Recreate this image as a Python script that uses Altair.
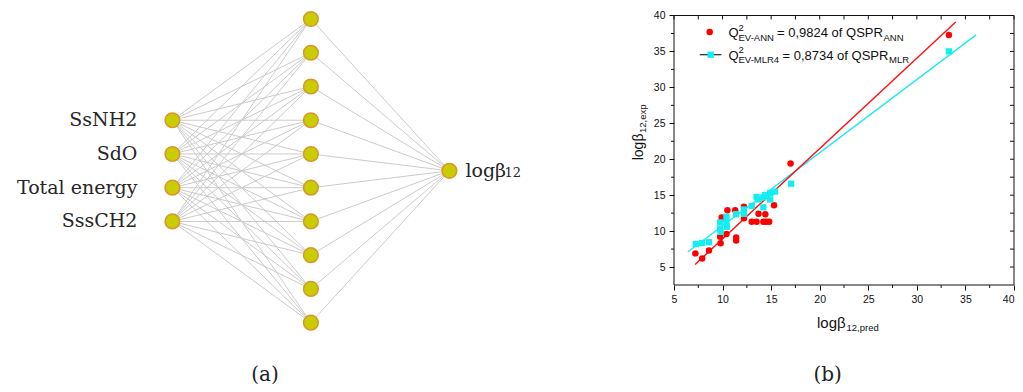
import altair as alt
import pandas as pd

# ---------------- Panel (a): network diagram data ----------------
input_labels = ["SsNH2", "SdO", "Total energy", "SssCH2"]
input_slots = [3, 4, 5, 6]
hidden_slots = [0, 1, 2, 3, 4, 5, 6, 7, 8, 9]
output_slots = [4.5]
output_text = "logβ"
output_sub = "12"

# ---------------- Panel (b): scatter data ----------------
ann_pred = [7.2, 7.9, 8.6, 9.8, 9.75, 10.4, 9.9, 10.5, 10.0, 11.4, 11.4, 11.3, 12.2, 12.2,
            13.0, 13.5, 13.7, 14.4, 14.2, 14.5, 14.8, 15.3, 17.0, 33.3]
ann_exp = [6.9, 6.2, 7.3, 8.3, 9.2, 9.6, 11.9, 12.9, 11.8, 9.1, 8.7, 12.9, 13.4, 11.8,
           11.3, 11.3, 12.4, 12.35, 11.3, 11.3, 11.3, 13.6, 19.4, 37.3]
mlr_pred = [7.25, 7.9, 8.6, 9.75, 9.75, 9.8, 10.4, 10.4, 10.45, 11.4, 12.2, 12.2, 13.0,
            13.5, 14.2, 14.2, 14.9, 14.4, 14.9, 15.4, 13.7, 17.05, 33.3]
mlr_exp = [8.2, 8.35, 8.45, 11.2, 10.3, 9.9, 12.0, 11.2, 10.6, 12.35, 13.0, 12.4, 13.5,
           14.75, 14.7, 13.3, 14.4, 15.0, 15.3, 15.5, 14.4, 16.6, 35.0]
ann_fit_x = [7.17, 34.0]
ann_fit_y = [5.36, 39.1]
mlr_fit_x = [6.42, 36.1]
mlr_fit_y = [7.1, 37.3]
major_ticks = [5, 10, 15, 20, 25, 30, 35, 40]
minor_ticks = [7.5, 12.5, 17.5, 22.5, 27.5, 32.5, 37.5]
all_ticks = [5, 7.5, 10, 12.5, 15, 17.5, 20, 22.5, 25, 27.5, 30, 32.5, 35, 37.5, 40]
x_limits = [5, 40]
y_limits = [2.5, 40]
legend_ann = ["Q", "2", "EV-ANN", "= 0,9824 of QSPR", "ANN"]
legend_mlr = ["Q", "2", "EV-MLR4", "= 0,8734 of QSPR", "MLR"]
x_title = ["logβ", "12,pred"]
y_title = ["logβ", "12,exp"]

SERIF = "DejaVu Serif"
SANS = "Liberation Sans"
dummy = pd.DataFrame({"d": [0]})


def txt(s, x, y, size, font=SANS, align="left", baseline="alphabetic", angle=0, color="#111111"):
    kw = dict(text=s, font=font, fontSize=size, align=align, baseline=baseline, color=color)
    if angle:
        kw["angle"] = angle
    return alt.Chart(dummy).mark_text(**kw).encode(x=alt.value(x), y=alt.value(y))


# ---------------- Left panel ----------------
LW, LH = 620, 376
lx = alt.Scale(domain=[-1.187, 3.2895], nice=False, zero=False)
ly = alt.Scale(domain=[-0.2667, 10.877], reverse=True, nice=False, zero=False)

nodes = pd.DataFrame(
    [{"layer": 0, "slot": s} for s in input_slots]
    + [{"layer": 1, "slot": s} for s in hidden_slots]
    + [{"layer": 2, "slot": s} for s in output_slots]
)
edges = pd.DataFrame(
    [{"x": 0, "x2": 1, "y": a, "y2": b} for a in input_slots for b in hidden_slots]
    + [{"x": 1, "x2": 2, "y": b, "y2": c} for b in hidden_slots for c in output_slots]
)
inputs = pd.DataFrame({"layer": [0] * len(input_labels), "slot": input_slots, "label": input_labels})
outputs = pd.DataFrame({"layer": [2], "slot": output_slots, "label": [output_text], "sub": [output_sub]})

X = lambda f: alt.X(f, type="quantitative", scale=lx, axis=None)
Y = lambda f: alt.Y(f, type="quantitative", scale=ly, axis=None)

edge_layer = alt.Chart(edges).mark_rule(color="#cbcbcb", strokeWidth=1).encode(
    x=X("x"), x2="x2", y=Y("y"), y2="y2")
node_layer = alt.Chart(nodes).mark_circle(
    size=215, fill="#c9cc00", stroke="#d8962c", strokeWidth=1.5, opacity=1, fillOpacity=1
).encode(x=X("layer"), y=Y("slot"))
in_text = alt.Chart(inputs).mark_text(
    font=SERIF, fontSize=19, align="right", baseline="middle", dx=-35, color="#262626"
).encode(x=X("layer"), y=Y("slot"), text="label:N")
out_text = alt.Chart(outputs).mark_text(
    font=SERIF, fontSize=19, align="left", baseline="alphabetic", dx=16, dy=6, color="#262626"
).encode(x=X("layer"), y=Y("slot"), text="label:N")
out_sub = alt.Chart(outputs).mark_text(
    font=SERIF, fontSize=13, align="left", baseline="alphabetic", dx=55, dy=6, color="#262626"
).encode(x=X("layer"), y=Y("slot"), text="sub:N")
cap_a = txt("(a)", 257, 365, 20, font=SERIF, align="center", baseline="middle", color="#222222")

left = alt.layer(edge_layer, node_layer, in_text, out_text, out_sub, cap_a).properties(width=LW, height=LH)

# ---------------- Right panel ----------------
RW, RH = 340, 275
TOP_PX = 5.5
Y_TOP = y_limits[1] + TOP_PX * (y_limits[1] - y_limits[0]) / (RH - TOP_PX)
xs = alt.Scale(domain=x_limits, nice=False, zero=False)
ys = alt.Scale(domain=[y_limits[0], Y_TOP], nice=False, zero=False)

x_axis = alt.Axis(values=major_ticks, title=None, domain=False, grid=False, tickSize=5,
                  tickColor="#111111", labelFont=SANS, labelFontSize=10.5, labelColor="#111111",
                  labelPadding=4, format="d",
                  labelAlign={"expr": "datum.value == 40 ? 'right' : 'center'"})
y_axis = alt.Axis(values=major_ticks, title=None, domain=False, grid=False, tickSize=5,
                  tickColor="#111111", labelFont=SANS, labelFontSize=10.5, labelColor="#111111",
                  labelPadding=4, format="d")
RX = lambda f: alt.X(f, type="quantitative", scale=xs, axis=x_axis)
RY = lambda f: alt.Y(f, type="quantitative", scale=ys, axis=y_axis)

ann = pd.DataFrame({"x": ann_pred, "y": ann_exp})
mlr = pd.DataFrame({"x": mlr_pred, "y": mlr_exp})
fit_ann = pd.DataFrame({"x": [ann_fit_x[0]], "x2": [ann_fit_x[1]], "y": [ann_fit_y[0]], "y2": [ann_fit_y[1]]})
fit_mlr = pd.DataFrame({"x": [mlr_fit_x[0]], "x2": [mlr_fit_x[1]], "y": [mlr_fit_y[0]], "y2": [mlr_fit_y[1]]})
frame = pd.DataFrame({
    "x": [x_limits[0], x_limits[0], x_limits[1], x_limits[0]],
    "x2": [x_limits[1], x_limits[1], x_limits[1], x_limits[0]],
    "y": [y_limits[0], y_limits[1], y_limits[0], y_limits[0]],
    "y2": [y_limits[0], y_limits[1], y_limits[1], y_limits[1]],
})
minor_df = pd.DataFrame({"t": minor_ticks})
all_df = pd.DataFrame({"t": all_ticks})

frame_layer = alt.Chart(frame).mark_rule(color="#111111", strokeWidth=1).encode(
    x=RX("x"), x2="x2", y=RY("y"), y2="y2")
fit_mlr_layer = alt.Chart(fit_mlr).mark_rule(color="#1ee8f0", strokeWidth=1.4).encode(
    x=RX("x"), x2="x2", y=RY("y"), y2="y2")
fit_ann_layer = alt.Chart(fit_ann).mark_rule(color="#ff1010", strokeWidth=1.4).encode(
    x=RX("x"), x2="x2", y=RY("y"), y2="y2")
ann_layer = alt.Chart(ann).mark_circle(size=42, color="#ff0000", opacity=1).encode(x=RX("x"), y=RY("y"))
mlr_layer = alt.Chart(mlr).mark_square(size=40, color="#12eef2", opacity=1).encode(x=RX("x"), y=RY("y"))

left_minor = alt.Chart(minor_df).mark_rule(color="#111111").encode(
    y=RY("t"), x=alt.value(-3), x2=alt.value(0))
bottom_minor = alt.Chart(minor_df).mark_rule(color="#111111").encode(
    x=RX("t"), y=alt.value(RH), y2=alt.value(RH + 3))
top_inner = alt.Chart(all_df).mark_rule(color="#111111").encode(
    x=RX("t"), y=alt.value(TOP_PX), y2=alt.value(TOP_PX + 4))
right_inner = alt.Chart(all_df).mark_rule(color="#111111").encode(
    y=RY("t"), x=alt.value(RW - 4), x2=alt.value(RW))

# legend (sub/superscripts composed of separate texts)
MAIN, SUB = 13, 9.5
leg_circle = alt.Chart(dummy).mark_circle(size=42, color="#ff0000", opacity=1).encode(
    x=alt.value(35.7), y=alt.value(22))
leg_line = alt.Chart(dummy).mark_rule(color="#222222", strokeWidth=1.2).encode(
    x=alt.value(25.7), x2=alt.value(47.4), y=alt.value(44.7))
leg_square = alt.Chart(dummy).mark_square(size=40, color="#12eef2", opacity=1).encode(
    x=alt.value(36.7), y=alt.value(44.7))
leg_texts = [
    txt(legend_ann[0], 54.5, 27, MAIN), txt(legend_ann[1], 64.5, 20.5, SUB),
    txt(legend_ann[2], 64.5, 30.5, SUB), txt(legend_ann[3], 103.0, 27, MAIN),
    txt(legend_ann[4], 209.5, 30.5, SUB),
    txt(legend_mlr[0], 54.5, 49.5, MAIN), txt(legend_mlr[1], 64.5, 43.0, SUB),
    txt(legend_mlr[2], 64.5, 53.0, SUB), txt(legend_mlr[3], 108.5, 49.5, MAIN),
    txt(legend_mlr[4], 215.0, 53.0, SUB),
]
titles = [
    txt(x_title[0], 143.0, 317.5, 15), txt(x_title[1], 172.5, 320.5, 9.5),
    txt(y_title[0], -31.3, 150.3, 14, angle=270), txt(y_title[1], -28.5, 123.0, 9.5, angle=270),
]
cap_b = txt("(b)", 153.7, 365, 20, font=SERIF, align="center", baseline="middle", color="#222222")

right = alt.layer(
    frame_layer, fit_mlr_layer, fit_ann_layer, ann_layer, mlr_layer,
    left_minor, bottom_minor, top_inner, right_inner,
    leg_line, leg_circle, leg_square, *leg_texts, *titles, cap_b
).properties(width=RW, height=RH)

chart = alt.hconcat(left, right, spacing=46, bounds="flush").properties(
    padding=0, background="white"
).configure_view(stroke=None)

chart.save("out.html", embed_options={"renderer": "svg", "actions": False})
